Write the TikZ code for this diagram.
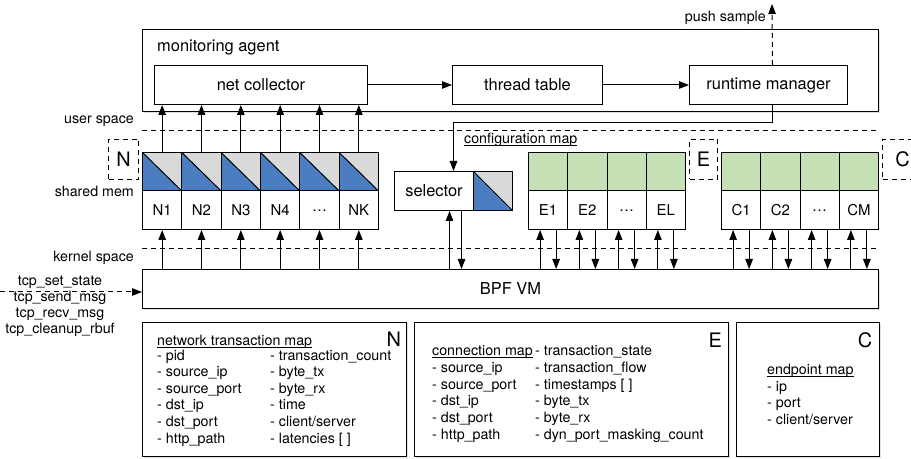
\documentclass[tikz,border=0pt]{standalone}
\usepackage{fontspec}
\setmainfont{TeX Gyre Heros}
\usetikzlibrary{arrows.meta,calc,shadows}
\definecolor{cellblue}{RGB}{74,126,193}
\definecolor{cellgray}{RGB}{217,217,217}
\definecolor{cellgreen}{RGB}{197,224,180}
\newcommand\myul[1]{\underline{\smash{#1}}}
\begin{document}
\begin{tikzpicture}[x=1bp,y=-1bp,
  box/.style={draw, line width=1bp, fill=white, inner sep=0pt, font=\fontsize{16.5}{18}\selectfont},
  shd/.style={drop shadow={shadow xshift=1bp,shadow yshift=-1.5bp,opacity=0.25}},
  arr/.style={line width=1bp, -{Triangle[length=10bp,width=7.5bp]}},
  dline/.style={line width=1bp, dash pattern=on 5bp off 4bp},
  lbl/.style={font=\fontsize{14.3}{16}\selectfont, inner sep=0pt},
  keyl/.style={font=\fontsize{20}{22}\selectfont, inner sep=0pt},
  cell/.style={draw, line width=1bp, inner sep=0pt, anchor=north west, font=\fontsize{15}{17}\selectfont},
  tri/.style={fill=cellgray, path picture={
     \fill[cellblue] (path picture bounding box.north west) -- (path picture bounding box.south west) -- (path picture bounding box.south east) -- cycle;
     \draw[line width=1bp] (path picture bounding box.north west) -- (path picture bounding box.south east);}},
  keybox/.style={draw, dline, inner sep=0pt, anchor=north west, font=\fontsize{20}{22}\selectfont}
]
\useasboundingbox (0,0) rectangle (911,459);

% monitoring agent
\node[box,shd,anchor=north west,minimum width=736bp,minimum height=82bp] (agent) at (142,29) {};
\node[anchor=west, inner sep=0pt, font=\fontsize{16.5}{18}\selectfont] (agentlbl) at (157,47) {monitoring agent};
\node[box,anchor=north west,minimum width=213bp,minimum height=39bp] (nc) at (154,65) {net collector};
\node[box,anchor=north west,minimum width=150bp,minimum height=39bp] (tt) at (452,65) {thread table};
\node[box,anchor=north west,minimum width=158bp,minimum height=39bp] (rm) at (689,65) {runtime manager};
\draw[arr] (nc.east) -- (tt.west);
\draw[arr] (tt.east) -- (rm.west);

% push sample
\coordinate (pushend) at (772,4);
\draw[arr,dline] ([xshift=4bp]rm.north) -- (pushend);
\node[lbl, anchor=east] (pushlbl) at (766,18) {push sample};

% level lines and labels
\coordinate (us1) at (142,131); \coordinate (us2) at (880,131);
\coordinate (ks1) at (142,249); \coordinate (ks2) at (880,249);
\draw[dline] (us1) -- (us2);
\draw[dline] (ks1) -- (ks2);
\node[lbl, anchor=east] (uslbl) at (134,121) {user space};
\node[lbl, anchor=east] (smlbl) at (134,191) {shared mem};
\node[lbl, anchor=east] (kslbl) at (134,258) {kernel space};

% BPF VM
\node[box,shd,anchor=north west,minimum width=736bp,minimum height=39bp] (bpf) at (142,269) {BPF VM};

% tcp hooks
\node[lbl, align=center, font=\fontsize{14.3}{16}\selectfont] (tcp) at (60,306) {tcp\_set\_state\\tcp\_send\_msg\\tcp\_recv\_msg\\tcp\_cleanup\_rbuf};
\coordinate (tcpin) at (0,292);
\draw[arr,dline] (tcpin) -- (tcpin -| bpf.west);

% N cells
\foreach \i/\t in {1/N1,2/N2,3/N3,4/N4,5/…,6/NK}{
  \node[cell,tri,minimum width=39.33bp,minimum height=38.5bp] (nt\i) at ({142+(\i-1)*39.333},152) {};
  \node[cell,fill=white,minimum width=39.33bp,minimum height=38.5bp] (nb\i) at ({142+(\i-1)*39.333},190.5) {\t};
  \draw[arr] (bpf.north -| nb\i.south) -- (nb\i.south);
  \draw[arr] (nt\i.north) -- (nt\i.north |- nc.south);
}
\node[keybox,minimum width=30bp,minimum height=40bp] (nkey) at (108,139) {N};

% selector
\node[box,anchor=north west,minimum width=79bp,minimum height=39bp] (sel) at (394,171) {selector};
\node[cell,tri,minimum width=39bp,minimum height=39bp] (selt) at (473,171) {};
\coordinate (selin) at ([xshift=19.5bp]sel.north);
\coordinate (bend) at (0,123);
\draw[arr] ([xshift=4bp]rm.south) |- (bend -| selin) -- (selin);
\coordinate (selup) at ([xshift=15.5bp]sel.south);
\coordinate (seldn) at ([xshift=27.5bp]sel.south);
\draw[arr] (selup |- bpf.north) -- (selup);
\draw[arr] (seldn) -- (seldn |- bpf.north);
\node[lbl, anchor=base west] (cfg) at (464,144) {\myul{configuration map}};

% E cells
\foreach \i/\t in {1/E1,2/E2,3/…,4/EL}{
  \node[cell,fill=cellgreen,minimum width=39.25bp,minimum height=38.5bp] (et\i) at ({528+(\i-1)*39.25},152) {};
  \node[cell,fill=white,minimum width=39.25bp,minimum height=38.5bp] (eb\i) at ({528+(\i-1)*39.25},190.5) {\t};
  \coordinate (eu\i) at ([xshift=-8bp]eb\i.south);
  \coordinate (ed\i) at ([xshift=8bp]eb\i.south);
  \draw[arr] (eu\i |- bpf.north) -- (eu\i);
  \draw[arr] (ed\i) -- (ed\i |- bpf.north);
}
\node[keybox,minimum width=28bp,minimum height=40bp] (ekey) at (689,139) {E};

% C cells
\foreach \i/\t in {1/C1,2/C2,3/…,4/CM}{
  \node[cell,fill=cellgreen,minimum width=39.25bp,minimum height=38.5bp] (ct\i) at ({721+(\i-1)*39.25},152) {};
  \node[cell,fill=white,minimum width=39.25bp,minimum height=38.5bp] (cb\i) at ({721+(\i-1)*39.25},190.5) {\t};
  \coordinate (cu\i) at ([xshift=-8bp]cb\i.south);
  \coordinate (cd\i) at ([xshift=8bp]cb\i.south);
  \draw[arr] (cu\i |- bpf.north) -- (cu\i);
  \draw[arr] (cd\i) -- (cd\i |- bpf.north);
}
\node[keybox,minimum width=40bp,minimum height=40bp] (ckey) at (882,139) {C};

% bottom boxes
\node[box,shd,anchor=north west,minimum width=264bp,minimum height=134bp] (nmap) at (142,322) {};
\node[box,shd,anchor=north west,minimum width=314bp,minimum height=134bp] (emap) at (414,322) {};
\node[box,shd,anchor=north west,minimum width=143bp,minimum height=134bp] (cmap) at (736,322) {};
\node[keyl] (nletter) at (393.7,339.5) {N};
\node[keyl] (eletter) at (715.3,340.5) {E};
\node[keyl] (cletter) at (865,340.5) {C};

\node[lbl, anchor=base west] (ntitle) at (157,345.5) {\myul{network transaction map}};
\foreach \t [count=\k] in {{- pid},{- source\_ip},{- source\_port},{- dst\_ip},{- dst\_port},{- http\_path}}
  \node[lbl, anchor=base west] (na\k) at (157,{343.5+\k*16.6}) {\t};
\foreach \t [count=\k] in {{- transaction\_count},{- byte\_tx},{- byte\_rx},{- time},{- client/server},{- latencies [ ]}}
  \node[lbl, anchor=base west] (nb\k) at (270,{343.5+\k*16.6}) {\t};

\foreach \t [count=\k] in {{\myul{connection map}},{- source\_ip},{- source\_port},{- dst\_ip},{- dst\_port},{- http\_path}}
  \node[lbl, anchor=base west] (ea\k) at (432,{339.4+\k*16.6}) {\t};
\foreach \t [count=\k] in {{- transaction\_state},{- transaction\_flow},{- timestamps [ ]},{- byte\_tx},{- byte\_rx},{- dyn\_port\_masking\_count}}
  \node[lbl, anchor=base west] (eb\k) at (535,{339.4+\k*16.6}) {\t};

\foreach \t [count=\k] in {{\myul{endpoint map}},{- ip},{- port},{- client/server}}
  \node[lbl, anchor=base west] (ca\k) at (767,{357.9+\k*16.6}) {\t};
\end{tikzpicture}
\end{document}
